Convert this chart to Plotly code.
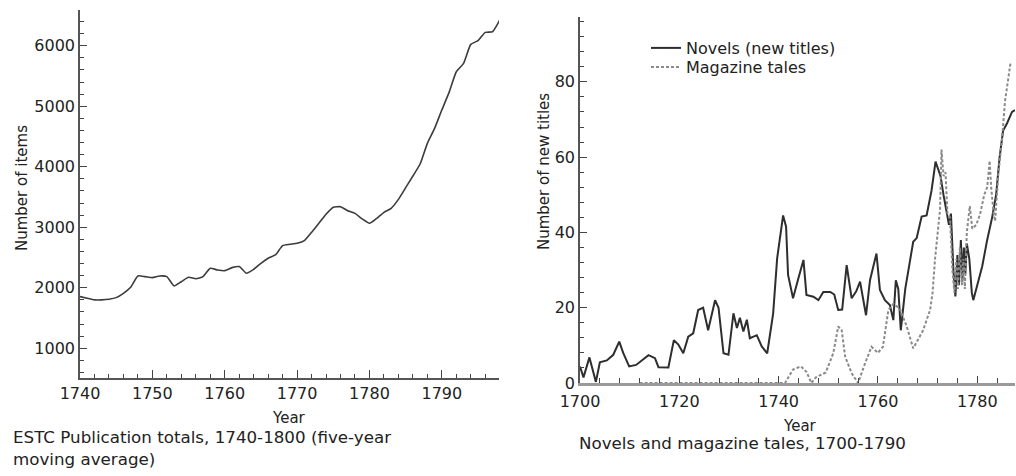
import plotly.graph_objects as go

# ---------------- data ----------------
estc_years = list(range(1740, 1799))
estc_items = [1854, 1826, 1800, 1800, 1810, 1837, 1908, 2008, 2195, 2184,
              2167, 2195, 2184, 2030, 2100, 2173, 2150, 2184, 2322, 2294,
              2283, 2333, 2350, 2240, 2306, 2404, 2487, 2542, 2696, 2718,
              2735, 2779, 2916, 3065, 3214, 3330, 3340, 3274, 3230, 3137,
              3065, 3148, 3247, 3313, 3461, 3654, 3847, 4045, 4387, 4634,
              4937, 5229, 5570, 5708, 6022, 6083, 6220, 6231, 6424]

novel_years = [1700.0, 1700.7, 1701.9, 1702.5, 1703.2, 1704.0, 1705.4, 1706.7, 1707.9, 1708.7,
               1709.9, 1711.3, 1712.5, 1713.8, 1715.1, 1715.8, 1717.8, 1718.9, 1719.8, 1720.8,
               1721.8, 1722.8, 1723.8, 1724.8, 1725.8, 1727.2, 1727.9, 1728.9, 1729.9, 1730.9,
               1731.6, 1732.2, 1732.9, 1733.6, 1734.2, 1735.6, 1736.6, 1737.7, 1738.9, 1739.7,
               1740.9, 1741.5, 1741.9, 1742.9, 1743.9, 1745.0, 1745.6, 1747.0, 1748.0, 1749.0,
               1750.4, 1751.2, 1752.0, 1752.8, 1753.7, 1754.7, 1755.6, 1756.4, 1757.6, 1758.4,
               1759.7, 1760.4, 1761.4, 1762.4, 1763.1, 1763.6, 1764.1, 1764.6, 1765.5, 1766.3,
               1767.1, 1767.8, 1768.8, 1769.8, 1770.8, 1771.6, 1772.1, 1772.6, 1773.2, 1773.8,
               1774.3, 1774.7, 1775.2, 1775.6, 1776.0, 1776.3, 1776.7, 1777.0, 1777.3, 1777.6,
               1777.9, 1778.4, 1778.9, 1779.2, 1780.0, 1781.0, 1782.0, 1783.0, 1783.8, 1784.5,
               1785.2, 1786.0, 1787.0, 1787.6]
novel_titles = [4.4, 1.5, 6.8, 3.5, 0.3, 5.5, 6.0, 7.5, 11.0, 8.0,
                4.4, 4.8, 6.0, 7.4, 6.6, 4.2, 4.1, 11.4, 10.2, 7.9,
                12.3, 13.2, 19.4, 20.0, 14.0, 22.0, 20.0, 7.9, 7.5, 18.5,
                14.6, 17.3, 13.7, 16.8, 11.9, 12.7, 9.7, 7.9, 18.5, 33.1,
                44.5, 41.5, 28.7, 22.5, 27.4, 32.7, 23.4, 22.9, 22.0, 24.2,
                24.2, 23.5, 19.4, 19.5, 31.3, 22.5, 24.3, 26.9, 18.0, 27.3,
                34.4, 24.7, 22.0, 20.7, 16.7, 27.3, 25.0, 14.0, 25.0, 31.8,
                37.5, 38.5, 44.2, 44.5, 51.2, 58.8, 57.0, 55.0, 50.0, 45.0,
                42.0, 45.0, 30.0, 23.0, 34.0, 26.0, 38.0, 27.0, 36.0, 29.0,
                37.0, 33.0, 24.0, 22.0, 26.0, 31.0, 38.0, 44.0, 50.0, 60.0,
                67.0, 69.0, 72.0, 72.5]

tale_years = [1712.0, 1740.0, 1741.3, 1742.9, 1744.5, 1745.6, 1746.6, 1747.5, 1749.5, 1751.0,
              1752.0, 1752.7, 1753.4, 1754.7, 1756.0, 1757.4, 1758.7, 1760.0, 1761.0, 1762.1,
              1763.1, 1764.4, 1765.8, 1767.1, 1769.1, 1770.5, 1771.0, 1771.5, 1772.0, 1772.5,
              1772.8, 1773.2, 1773.6, 1774.0, 1774.5, 1775.0, 1775.4, 1775.8, 1776.1, 1776.5,
              1776.9, 1777.2, 1777.5, 1777.9, 1778.5, 1779.0, 1779.8, 1780.6, 1781.4, 1782.0,
              1782.5, 1782.8, 1783.3, 1783.6, 1784.2, 1785.0, 1785.6, 1786.2, 1786.7]
tale_counts = [0.0, 0.0, 0.0, 3.6, 4.4, 3.0, 0.0, 1.5, 2.8, 7.9,
               15.0, 14.0, 7.0, 2.6, 0.0, 5.2, 9.6, 8.0, 9.6, 19.4,
               21.0, 19.8, 15.0, 9.2, 14.0, 19.4, 24.0, 33.0, 40.0, 46.0,
               62.0, 55.0, 56.0, 45.0, 44.0, 30.0, 24.0, 33.0, 25.0, 36.0,
               26.0, 33.0, 25.0, 40.0, 47.0, 41.0, 42.0, 45.0, 50.0, 52.0,
               59.0, 52.0, 45.0, 43.0, 55.0, 65.0, 75.0, 80.0, 85.0]

left_xticks = [1740, 1750, 1760, 1770, 1780, 1790]
left_yticks = [1000, 2000, 3000, 4000, 5000, 6000]
right_xticks = [1700, 1720, 1740, 1760, 1780]
right_yticks = [0, 20, 40, 60, 80]

FONT = "DejaVu Sans"
W, H = 1016, 476

fig = go.Figure()
fig.add_trace(go.Scatter(x=estc_years, y=estc_items, mode="lines",
                         line=dict(color="#3c3c3c", width=1.6, shape="spline", smoothing=0.5),
                         showlegend=False, xaxis="x", yaxis="y"))
fig.add_trace(go.Scatter(x=novel_years, y=novel_titles, mode="lines",
                         name="Novels (new titles)",
                         line=dict(color="#2e2e2e", width=2),
                         xaxis="x2", yaxis="y2", legend="legend"))
fig.add_trace(go.Scatter(x=tale_years, y=tale_counts, mode="lines",
                         name="Magazine tales",
                         line=dict(color="#8a8a8a", width=2, dash="3px,2px"),
                         xaxis="x2", yaxis="y2", legend="legend2"))

tickfont = dict(family=FONT, size=16, color="#222")
common = dict(showgrid=False, zeroline=False, showline=True, ticks="inside",
              tickfont=tickfont, tickcolor="#444", tickwidth=1.2, automargin=False)

legend_common = dict(xanchor="left", yanchor="middle", bgcolor="rgba(0,0,0,0)",
                     font=dict(family=FONT, size=16, color="#222"), borderwidth=0)

fig.update_layout(
    width=W, height=H,
    margin=dict(l=0, r=0, t=0, b=0, pad=0),
    paper_bgcolor="white", plot_bgcolor="white",
    font=dict(family=FONT, size=16, color="#222"),
    xaxis=dict(domain=[80 / W, 499 / W], range=[1740, 1797.9], anchor="y",
               tickvals=left_xticks, ticklen=8, linecolor="#555", linewidth=1.5,
               minor=dict(dtick=2, tick0=1740, ticks="inside", ticklen=4, tickcolor="#444"),
               **common),
    yaxis=dict(domain=[1 - 378 / H, 1 - 10 / H], range=[509, 6590], anchor="x",
               tickvals=left_yticks, ticklen=7, linecolor="#555", linewidth=1.5,
               minor=dict(dtick=200, tick0=0, ticks="inside", ticklen=4, tickcolor="#444"),
               **common),
    xaxis2=dict(domain=[580 / W, 1015 / W], range=[1700, 1787.6], anchor="y2",
                tickvals=right_xticks, ticklen=7, linecolor="#9a9a9a", linewidth=2.5,
                ticklabelstandoff=2,
                minor=dict(dtick=4, tick0=1700, ticks="inside", ticklen=5, tickcolor="#444"),
                **common),
    yaxis2=dict(domain=[1 - 383 / H, 1 - 16.7 / H], range=[0, 97.3], anchor="x2",
                tickvals=right_yticks, ticklen=7, linecolor="#555", linewidth=1.5,
                minor=dict(dtick=4, tick0=0, ticks="inside", ticklen=4, tickcolor="#444"),
                **common),
    legend=dict(x=646 / W, y=1 - 48 / H, **legend_common),
    legend2=dict(x=646 / W, y=1 - 67 / H, **legend_common),
)

ann = [
    dict(text="Year", x=288.5 / W, y=1 - 418 / H, font=dict(size=15)),
    dict(text="Year", x=800 / W, y=1 - 426 / H, font=dict(size=15)),
    dict(text="Number of items", x=22 / W, y=1 - 188 / H, textangle=-90, font=dict(size=15)),
    dict(text="Number of new titles", x=544 / W, y=1 - 172 / H, textangle=-90, font=dict(size=15)),
    dict(text="ESTC Publication totals, 1740-1800 (five-year<br>moving average)",
         x=11 / W, y=1 - 448 / H, xanchor="left", align="left", font=dict(size=16.7)),
    dict(text="Novels and magazine tales, 1700-1790",
         x=577 / W, y=1 - 443 / H, xanchor="left", align="left", font=dict(size=16.7)),
]
for a in ann:
    a.setdefault("xanchor", "center")
    a.update(xref="paper", yref="paper", yanchor="middle", showarrow=False)
    a["font"] = dict(family=FONT, color="#222", **a["font"])
fig.update_layout(annotations=ann)

fig.write_html("out.html",
               config={"displayModeBar": False},
               post_script="document.body.style.margin='0';"
                           "document.body.style.overflow='hidden';")
